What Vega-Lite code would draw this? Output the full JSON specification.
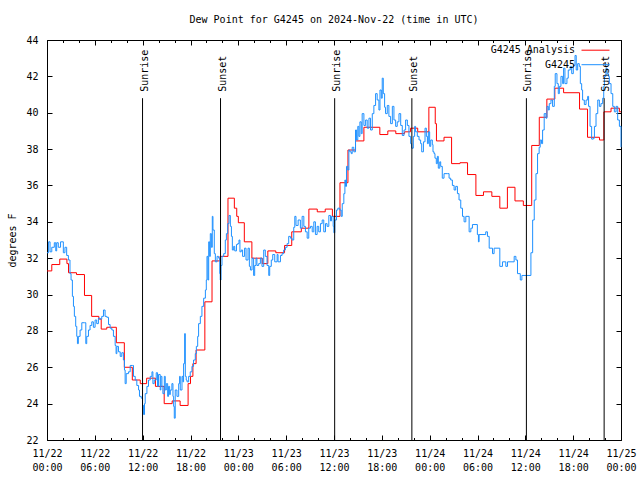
{
"$schema": "https://vega.github.io/schema/vega-lite/v6.json",
"width": 574, "height": 400,
"autosize": {"type": "none"},
"padding": {"left": 47, "top": 40, "right": 19, "bottom": 40},
"background": "white",
"title": {"text": "Dew Point for G4245 on 2024-Nov-22 (time in UTC)", "font": "DejaVu Sans Mono", "fontSize": 10, "fontWeight": "normal", "color": "black", "offset": 10},
"config": {
  "view": {"stroke": "black", "strokeWidth": 1},
  "font": "DejaVu Sans Mono",
  "axis": {"labelFont": "DejaVu Sans Mono", "labelFontSize": 10, "labelColor": "black", "tickColor": "black", "tickWidth": 1, "domain": false, "grid": false, "titleFont": "DejaVu Sans Mono", "titleFontSize": 10, "titleFontWeight": "normal", "titleColor": "black", "labelFlush": false, "labelOverlap": false}
},
"datasets": {
"analysis": [
{"t":"2024-11-22T00:00:00Z","v":31.3},{"t":"2024-11-22T00:36:00Z","v":31.65},{"t":"2024-11-22T01:36:00Z","v":31.95},{"t":"2024-11-22T02:30:00Z","v":31.7},{"t":"2024-11-22T02:42:00Z","v":31.2},{"t":"2024-11-22T03:42:00Z","v":31.1},{"t":"2024-11-22T04:42:00Z","v":29.95},{"t":"2024-11-22T05:36:00Z","v":28.8},{"t":"2024-11-22T06:30:00Z","v":28.65},{"t":"2024-11-22T06:48:00Z","v":28.1},{"t":"2024-11-22T07:30:00Z","v":28.2},{"t":"2024-11-22T08:42:00Z","v":27.35},{"t":"2024-11-22T09:42:00Z","v":26.0},{"t":"2024-11-22T10:42:00Z","v":25.3},{"t":"2024-11-22T11:42:00Z","v":25.1},{"t":"2024-11-22T12:30:00Z","v":25.4},{"t":"2024-11-22T13:36:00Z","v":24.95},{"t":"2024-11-22T14:42:00Z","v":24.0},{"t":"2024-11-22T15:42:00Z","v":24.15},{"t":"2024-11-22T16:42:00Z","v":23.9},{"t":"2024-11-22T17:42:00Z","v":25.1},{"t":"2024-11-22T18:00:00Z","v":25.5},{"t":"2024-11-22T18:18:00Z","v":26.2},{"t":"2024-11-22T18:42:00Z","v":26.95},{"t":"2024-11-22T19:48:00Z","v":29.6},{"t":"2024-11-22T20:42:00Z","v":31.85},{"t":"2024-11-22T21:42:00Z","v":32.1},{"t":"2024-11-22T22:42:00Z","v":35.3},{"t":"2024-11-22T23:30:00Z","v":34.75},{"t":"2024-11-22T23:48:00Z","v":34.3},
{"t":"2024-11-23T00:00:00Z","v":33.95},{"t":"2024-11-23T00:45:00Z","v":32.9},{"t":"2024-11-23T01:42:00Z","v":32.0},{"t":"2024-11-23T03:00:00Z","v":31.7},{"t":"2024-11-23T03:42:00Z","v":32.4},{"t":"2024-11-23T04:42:00Z","v":32.3},{"t":"2024-11-23T05:48:00Z","v":32.7},{"t":"2024-11-23T06:42:00Z","v":33.45},{"t":"2024-11-23T07:54:00Z","v":33.65},{"t":"2024-11-23T08:51:00Z","v":34.7},{"t":"2024-11-23T09:54:00Z","v":34.55},{"t":"2024-11-23T10:54:00Z","v":34.7},{"t":"2024-11-23T11:48:00Z","v":34.3},{"t":"2024-11-23T12:45:00Z","v":36.15},{"t":"2024-11-23T13:45:00Z","v":37.95},{"t":"2024-11-23T14:42:00Z","v":38.45},{"t":"2024-11-23T15:45:00Z","v":39.2},{"t":"2024-11-23T17:45:00Z","v":38.8},{"t":"2024-11-23T18:45:00Z","v":39.0},{"t":"2024-11-23T19:45:00Z","v":38.85},{"t":"2024-11-23T20:51:00Z","v":38.95},{"t":"2024-11-23T21:36:00Z","v":39.15},{"t":"2024-11-23T22:30:00Z","v":38.95},{"t":"2024-11-23T23:54:00Z","v":40.3},
{"t":"2024-11-24T00:42:00Z","v":39.4},{"t":"2024-11-24T00:51:00Z","v":38.45},{"t":"2024-11-24T01:48:00Z","v":38.65},{"t":"2024-11-24T02:45:00Z","v":37.2},{"t":"2024-11-24T03:48:00Z","v":37.25},{"t":"2024-11-24T04:45:00Z","v":36.6},{"t":"2024-11-24T05:48:00Z","v":35.45},{"t":"2024-11-24T06:45:00Z","v":35.65},{"t":"2024-11-24T07:48:00Z","v":35.4},{"t":"2024-11-24T08:48:00Z","v":34.75},{"t":"2024-11-24T09:45:00Z","v":35.9},{"t":"2024-11-24T10:42:00Z","v":35.15},{"t":"2024-11-24T11:45:00Z","v":34.9},{"t":"2024-11-24T12:48:00Z","v":38.2},{"t":"2024-11-24T13:45:00Z","v":39.75},{"t":"2024-11-24T14:42:00Z","v":40.75},{"t":"2024-11-24T15:42:00Z","v":41.35},{"t":"2024-11-24T16:48:00Z","v":41.1},{"t":"2024-11-24T18:48:00Z","v":40.2},{"t":"2024-11-24T19:48:00Z","v":38.65},{"t":"2024-11-24T21:18:00Z","v":38.5},{"t":"2024-11-24T21:51:00Z","v":40.05},{"t":"2024-11-24T22:45:00Z","v":40.25},{"t":"2024-11-24T23:48:00Z","v":40.05},{"t":"2024-11-25T00:00:00Z","v":40.05}
],
"obs": [
{"t":"2024-11-22T00:00:00Z","v":32.3},{"t":"2024-11-22T00:12:00Z","v":32.9},{"t":"2024-11-22T00:23:00Z","v":32.35},{"t":"2024-11-22T00:36:00Z","v":32.6},{"t":"2024-11-22T00:55:00Z","v":32.85},{"t":"2024-11-22T01:06:00Z","v":32.4},{"t":"2024-11-22T01:13:00Z","v":32.85},{"t":"2024-11-22T01:25:00Z","v":32.6},{"t":"2024-11-22T01:42:00Z","v":32.9},{"t":"2024-11-22T02:03:00Z","v":32.3},{"t":"2024-11-22T02:15:00Z","v":32.6},{"t":"2024-11-22T02:28:00Z","v":32.15},{"t":"2024-11-22T02:41:00Z","v":31.9},{"t":"2024-11-22T02:53:00Z","v":31.15},{"t":"2024-11-22T03:01:00Z","v":30.8},{"t":"2024-11-22T03:11:00Z","v":29.9},{"t":"2024-11-22T03:19:00Z","v":29.35},{"t":"2024-11-22T03:26:00Z","v":28.8},{"t":"2024-11-22T03:36:00Z","v":28.25},{"t":"2024-11-22T03:44:00Z","v":27.7},{"t":"2024-11-22T03:49:00Z","v":27.3},{"t":"2024-11-22T03:56:00Z","v":27.7},{"t":"2024-11-22T04:09:00Z","v":28.05},{"t":"2024-11-22T04:22:00Z","v":28.45},{"t":"2024-11-22T04:41:00Z","v":28.45},{"t":"2024-11-22T04:52:00Z","v":27.3},{"t":"2024-11-22T04:59:00Z","v":27.7},{"t":"2024-11-22T05:12:00Z","v":28.05},{"t":"2024-11-22T05:24:00Z","v":28.3},{"t":"2024-11-22T05:37:00Z","v":28.5},{"t":"2024-11-22T05:49:00Z","v":28.2},{"t":"2024-11-22T06:02:00Z","v":28.6},{"t":"2024-11-22T06:14:00Z","v":28.4},{"t":"2024-11-22T06:27:00Z","v":28.7},{"t":"2024-11-22T06:40:00Z","v":28.65},{"t":"2024-11-22T06:52:00Z","v":28.8},{"t":"2024-11-22T07:05:00Z","v":29.15},{"t":"2024-11-22T07:17:00Z","v":28.8},{"t":"2024-11-22T07:30:00Z","v":28.75},{"t":"2024-11-22T07:43:00Z","v":28.35},{"t":"2024-11-22T07:55:00Z","v":28.15},{"t":"2024-11-22T08:08:00Z","v":28.05},{"t":"2024-11-22T08:20:00Z","v":27.7},{"t":"2024-11-22T08:33:00Z","v":27.2},{"t":"2024-11-22T08:40:00Z","v":26.75},{"t":"2024-11-22T08:46:00Z","v":27.15},{"t":"2024-11-22T08:58:00Z","v":26.85},{"t":"2024-11-22T09:11:00Z","v":26.6},{"t":"2024-11-22T09:23:00Z","v":26.8},{"t":"2024-11-22T09:35:00Z","v":26.4},{"t":"2024-11-22T09:43:00Z","v":25.85},{"t":"2024-11-22T09:48:00Z","v":25.1},{"t":"2024-11-22T09:56:00Z","v":25.65},{"t":"2024-11-22T10:13:00Z","v":25.75},{"t":"2024-11-22T10:26:00Z","v":26.1},{"t":"2024-11-22T10:43:00Z","v":26.1},{"t":"2024-11-22T10:51:00Z","v":25.5},{"t":"2024-11-22T11:04:00Z","v":25.3},{"t":"2024-11-22T11:16:00Z","v":25.0},{"t":"2024-11-22T11:29:00Z","v":24.75},{"t":"2024-11-22T11:36:00Z","v":24.4},{"t":"2024-11-22T11:49:00Z","v":24.3},{"t":"2024-11-22T11:59:00Z","v":23.9},{"t":"2024-11-22T12:07:00Z","v":23.4},{"t":"2024-11-22T12:14:00Z","v":24.0},{"t":"2024-11-22T12:19:00Z","v":24.55},{"t":"2024-11-22T12:32:00Z","v":24.95},{"t":"2024-11-22T12:44:00Z","v":25.3},{"t":"2024-11-22T12:57:00Z","v":25.5},{"t":"2024-11-22T13:10:00Z","v":25.75},{"t":"2024-11-22T13:17:00Z","v":25.1},{"t":"2024-11-22T13:27:00Z","v":25.3},{"t":"2024-11-22T13:42:00Z","v":25.7},{"t":"2024-11-22T13:52:00Z","v":24.95},{"t":"2024-11-22T13:59:00Z","v":25.6},{"t":"2024-11-22T14:12:00Z","v":24.75},{"t":"2024-11-22T14:17:00Z","v":25.5},{"t":"2024-11-22T14:25:00Z","v":24.95},{"t":"2024-11-22T14:32:00Z","v":24.55},{"t":"2024-11-22T14:43:00Z","v":25.5},{"t":"2024-11-22T14:50:00Z","v":24.75},{"t":"2024-11-22T14:58:00Z","v":25.1},{"t":"2024-11-22T15:08:00Z","v":24.4},{"t":"2024-11-22T15:15:00Z","v":24.95},{"t":"2024-11-22T15:23:00Z","v":24.5},{"t":"2024-11-22T15:28:00Z","v":24.75},{"t":"2024-11-22T15:40:00Z","v":25.1},{"t":"2024-11-22T15:48:00Z","v":24.4},{"t":"2024-11-22T15:53:00Z","v":23.85},{"t":"2024-11-22T15:58:00Z","v":23.2},{"t":"2024-11-22T16:05:00Z","v":24.75},{"t":"2024-11-22T16:18:00Z","v":24.4},{"t":"2024-11-22T16:31:00Z","v":25.1},{"t":"2024-11-22T16:38:00Z","v":25.5},{"t":"2024-11-22T16:43:00Z","v":24.75},{"t":"2024-11-22T16:56:00Z","v":25.5},{"t":"2024-11-22T17:03:00Z","v":25.2},{"t":"2024-11-22T17:08:00Z","v":26.2},{"t":"2024-11-22T17:16:00Z","v":27.85},{"t":"2024-11-22T17:21:00Z","v":25.5},{"t":"2024-11-22T17:28:00Z","v":25.3},{"t":"2024-11-22T17:34:00Z","v":25.2},{"t":"2024-11-22T17:46:00Z","v":25.5},{"t":"2024-11-22T17:58:00Z","v":25.75},{"t":"2024-11-22T18:11:00Z","v":26.05},{"t":"2024-11-22T18:23:00Z","v":26.4},{"t":"2024-11-22T18:36:00Z","v":26.75},{"t":"2024-11-22T18:44:00Z","v":27.15},{"t":"2024-11-22T18:54:00Z","v":27.7},{"t":"2024-11-22T19:01:00Z","v":28.4},{"t":"2024-11-22T19:14:00Z","v":28.8},{"t":"2024-11-22T19:26:00Z","v":29.35},{"t":"2024-11-22T19:39:00Z","v":29.8},{"t":"2024-11-22T19:52:00Z","v":30.25},{"t":"2024-11-22T19:59:00Z","v":30.8},{"t":"2024-11-22T20:04:00Z","v":32.1},{"t":"2024-11-22T20:11:00Z","v":30.8},{"t":"2024-11-22T20:17:00Z","v":32.9},{"t":"2024-11-22T20:24:00Z","v":32.1},{"t":"2024-11-22T20:29:00Z","v":33.35},{"t":"2024-11-22T20:37:00Z","v":32.6},{"t":"2024-11-22T20:44:00Z","v":34.3},{"t":"2024-11-22T20:49:00Z","v":33.55},{"t":"2024-11-22T20:59:00Z","v":32.25},{"t":"2024-11-22T21:07:00Z","v":31.8},{"t":"2024-11-22T21:20:00Z","v":32.1},{"t":"2024-11-22T21:32:00Z","v":32.0},{"t":"2024-11-22T21:40:00Z","v":31.15},{"t":"2024-11-22T21:44:00Z","v":30.8},{"t":"2024-11-22T21:50:00Z","v":31.6},{"t":"2024-11-22T21:57:00Z","v":32.1},{"t":"2024-11-22T22:10:00Z","v":32.25},{"t":"2024-11-22T22:22:00Z","v":33.0},{"t":"2024-11-22T22:30:00Z","v":33.35},{"t":"2024-11-22T22:40:00Z","v":33.9},{"t":"2024-11-22T22:50:00Z","v":34.35},{"t":"2024-11-22T23:00:00Z","v":33.75},{"t":"2024-11-22T23:08:00Z","v":33.2},{"t":"2024-11-22T23:15:00Z","v":32.45},{"t":"2024-11-22T23:25:00Z","v":32.65},{"t":"2024-11-22T23:33:00Z","v":32.4},{"t":"2024-11-22T23:46:00Z","v":32.75},{"t":"2024-11-22T23:55:00Z","v":32.8},
{"t":"2024-11-23T00:05:00Z","v":33.0},{"t":"2024-11-23T00:12:00Z","v":32.35},{"t":"2024-11-23T00:22:00Z","v":32.45},{"t":"2024-11-23T00:32:00Z","v":32.1},{"t":"2024-11-23T00:47:00Z","v":32.55},{"t":"2024-11-23T00:58:00Z","v":31.9},{"t":"2024-11-23T01:13:00Z","v":32.55},{"t":"2024-11-23T01:23:00Z","v":31.55},{"t":"2024-11-23T01:31:00Z","v":31.35},{"t":"2024-11-23T01:43:00Z","v":32.0},{"t":"2024-11-23T01:55:00Z","v":31.05},{"t":"2024-11-23T02:03:00Z","v":31.6},{"t":"2024-11-23T02:13:00Z","v":32.0},{"t":"2024-11-23T02:20:00Z","v":31.6},{"t":"2024-11-23T02:33:00Z","v":31.7},{"t":"2024-11-23T02:46:00Z","v":32.0},{"t":"2024-11-23T02:58:00Z","v":31.55},{"t":"2024-11-23T03:11:00Z","v":32.45},{"t":"2024-11-23T03:23:00Z","v":32.1},{"t":"2024-11-23T03:36:00Z","v":31.6},{"t":"2024-11-23T03:49:00Z","v":31.05},{"t":"2024-11-23T03:56:00Z","v":31.55},{"t":"2024-11-23T04:08:00Z","v":31.9},{"t":"2024-11-23T04:19:00Z","v":32.2},{"t":"2024-11-23T04:34:00Z","v":31.8},{"t":"2024-11-23T04:52:00Z","v":32.2},{"t":"2024-11-23T04:59:00Z","v":31.8},{"t":"2024-11-23T05:17:00Z","v":32.15},{"t":"2024-11-23T05:29:00Z","v":32.25},{"t":"2024-11-23T05:41:00Z","v":32.45},{"t":"2024-11-23T05:54:00Z","v":32.6},{"t":"2024-11-23T06:07:00Z","v":32.8},{"t":"2024-11-23T06:19:00Z","v":33.2},{"t":"2024-11-23T06:32:00Z","v":33.1},{"t":"2024-11-23T06:44:00Z","v":33.0},{"t":"2024-11-23T06:57:00Z","v":33.7},{"t":"2024-11-23T07:05:00Z","v":34.3},{"t":"2024-11-23T07:14:00Z","v":33.8},{"t":"2024-11-23T07:30:00Z","v":34.1},{"t":"2024-11-23T07:47:00Z","v":33.65},{"t":"2024-11-23T08:00:00Z","v":34.3},{"t":"2024-11-23T08:13:00Z","v":33.75},{"t":"2024-11-23T08:25:00Z","v":33.45},{"t":"2024-11-23T08:38:00Z","v":33.1},{"t":"2024-11-23T08:50:00Z","v":33.65},{"t":"2024-11-23T09:03:00Z","v":33.75},{"t":"2024-11-23T09:16:00Z","v":33.45},{"t":"2024-11-23T09:28:00Z","v":34.0},{"t":"2024-11-23T09:40:00Z","v":33.3},{"t":"2024-11-23T09:53:00Z","v":33.75},{"t":"2024-11-23T10:05:00Z","v":33.45},{"t":"2024-11-23T10:18:00Z","v":33.9},{"t":"2024-11-23T10:31:00Z","v":34.1},{"t":"2024-11-23T10:43:00Z","v":33.45},{"t":"2024-11-23T10:56:00Z","v":33.9},{"t":"2024-11-23T11:08:00Z","v":33.75},{"t":"2024-11-23T11:21:00Z","v":34.35},{"t":"2024-11-23T11:34:00Z","v":34.05},{"t":"2024-11-23T11:41:00Z","v":34.3},{"t":"2024-11-23T11:54:00Z","v":33.75},{"t":"2024-11-23T11:59:00Z","v":33.4},{"t":"2024-11-23T12:06:00Z","v":34.1},{"t":"2024-11-23T12:19:00Z","v":34.65},{"t":"2024-11-23T12:29:00Z","v":34.75},{"t":"2024-11-23T12:44:00Z","v":34.65},{"t":"2024-11-23T12:54:00Z","v":34.3},{"t":"2024-11-23T13:02:00Z","v":35.0},{"t":"2024-11-23T13:14:00Z","v":35.55},{"t":"2024-11-23T13:22:00Z","v":36.3},{"t":"2024-11-23T13:27:00Z","v":35.95},{"t":"2024-11-23T13:34:00Z","v":37.05},{"t":"2024-11-23T13:44:00Z","v":36.85},{"t":"2024-11-23T13:52:00Z","v":37.95},{"t":"2024-11-23T13:59:00Z","v":37.85},{"t":"2024-11-23T14:10:00Z","v":37.75},{"t":"2024-11-23T14:17:00Z","v":38.1},{"t":"2024-11-23T14:29:00Z","v":37.85},{"t":"2024-11-23T14:42:00Z","v":39.05},{"t":"2024-11-23T14:50:00Z","v":38.5},{"t":"2024-11-23T14:59:00Z","v":39.25},{"t":"2024-11-23T15:07:00Z","v":38.7},{"t":"2024-11-23T15:15:00Z","v":39.5},{"t":"2024-11-23T15:25:00Z","v":38.85},{"t":"2024-11-23T15:32:00Z","v":39.95},{"t":"2024-11-23T15:45:00Z","v":39.3},{"t":"2024-11-23T15:58:00Z","v":39.6},{"t":"2024-11-23T16:10:00Z","v":39.15},{"t":"2024-11-23T16:23:00Z","v":39.7},{"t":"2024-11-23T16:35:00Z","v":39.05},{"t":"2024-11-23T16:48:00Z","v":39.95},{"t":"2024-11-23T17:00:00Z","v":40.4},{"t":"2024-11-23T17:13:00Z","v":41.05},{"t":"2024-11-23T17:25:00Z","v":40.7},{"t":"2024-11-23T17:38:00Z","v":40.15},{"t":"2024-11-23T17:46:00Z","v":41.25},{"t":"2024-11-23T17:56:00Z","v":40.8},{"t":"2024-11-23T18:03:00Z","v":41.9},{"t":"2024-11-23T18:11:00Z","v":41.05},{"t":"2024-11-23T18:21:00Z","v":40.3},{"t":"2024-11-23T18:28:00Z","v":39.95},{"t":"2024-11-23T18:41:00Z","v":40.4},{"t":"2024-11-23T18:53:00Z","v":39.8},{"t":"2024-11-23T19:06:00Z","v":39.4},{"t":"2024-11-23T19:19:00Z","v":40.35},{"t":"2024-11-23T19:31:00Z","v":39.6},{"t":"2024-11-23T19:44:00Z","v":39.25},{"t":"2024-11-23T19:56:00Z","v":39.5},{"t":"2024-11-23T20:09:00Z","v":39.95},{"t":"2024-11-23T20:22:00Z","v":39.3},{"t":"2024-11-23T20:34:00Z","v":38.75},{"t":"2024-11-23T20:47:00Z","v":39.05},{"t":"2024-11-23T20:59:00Z","v":39.6},{"t":"2024-11-23T21:12:00Z","v":39.3},{"t":"2024-11-23T21:24:00Z","v":38.7},{"t":"2024-11-23T21:37:00Z","v":38.3},{"t":"2024-11-23T21:44:00Z","v":38.05},{"t":"2024-11-23T21:57:00Z","v":38.7},{"t":"2024-11-23T22:07:00Z","v":39.25},{"t":"2024-11-23T22:14:00Z","v":38.95},{"t":"2024-11-23T22:27:00Z","v":38.7},{"t":"2024-11-23T22:40:00Z","v":38.5},{"t":"2024-11-23T22:52:00Z","v":38.3},{"t":"2024-11-23T23:00:00Z","v":37.85},{"t":"2024-11-23T23:13:00Z","v":38.4},{"t":"2024-11-23T23:25:00Z","v":39.15},{"t":"2024-11-23T23:35:00Z","v":38.7},{"t":"2024-11-23T23:43:00Z","v":38.3},{"t":"2024-11-23T23:50:00Z","v":38.95},
{"t":"2024-11-24T00:00:00Z","v":38.15},{"t":"2024-11-24T00:08:00Z","v":38.5},{"t":"2024-11-24T00:20:00Z","v":38.25},{"t":"2024-11-24T00:25:00Z","v":37.85},{"t":"2024-11-24T00:33:00Z","v":37.75},{"t":"2024-11-24T00:40:00Z","v":37.5},{"t":"2024-11-24T00:50:00Z","v":37.2},{"t":"2024-11-24T00:58:00Z","v":37.6},{"t":"2024-11-24T01:05:00Z","v":36.95},{"t":"2024-11-24T01:16:00Z","v":37.3},{"t":"2024-11-24T01:23:00Z","v":37.05},{"t":"2024-11-24T01:35:00Z","v":36.4},{"t":"2024-11-24T01:48:00Z","v":36.65},{"t":"2024-11-24T02:13:00Z","v":36.65},{"t":"2024-11-24T02:26:00Z","v":36.4},{"t":"2024-11-24T02:38:00Z","v":36.3},{"t":"2024-11-24T02:51:00Z","v":36.0},{"t":"2024-11-24T03:04:00Z","v":35.75},{"t":"2024-11-24T03:16:00Z","v":35.95},{"t":"2024-11-24T03:29:00Z","v":35.55},{"t":"2024-11-24T03:41:00Z","v":35.2},{"t":"2024-11-24T03:54:00Z","v":34.75},{"t":"2024-11-24T04:07:00Z","v":34.3},{"t":"2024-11-24T04:19:00Z","v":34.0},{"t":"2024-11-24T04:32:00Z","v":34.3},{"t":"2024-11-24T04:57:00Z","v":33.45},{"t":"2024-11-24T05:10:00Z","v":33.65},{"t":"2024-11-24T05:22:00Z","v":33.85},{"t":"2024-11-24T05:59:00Z","v":33.3},{"t":"2024-11-24T06:07:00Z","v":32.9},{"t":"2024-11-24T06:12:00Z","v":33.3},{"t":"2024-11-24T07:02:00Z","v":33.45},{"t":"2024-11-24T07:15:00Z","v":33.2},{"t":"2024-11-24T07:28:00Z","v":32.55},{"t":"2024-11-24T07:53:00Z","v":32.25},{"t":"2024-11-24T08:05:00Z","v":32.55},{"t":"2024-11-24T08:48:00Z","v":31.55},{"t":"2024-11-24T09:08:00Z","v":31.8},{"t":"2024-11-24T09:33:00Z","v":31.55},{"t":"2024-11-24T09:46:00Z","v":31.8},{"t":"2024-11-24T10:36:00Z","v":32.1},{"t":"2024-11-24T10:49:00Z","v":31.9},{"t":"2024-11-24T11:01:00Z","v":31.15},{"t":"2024-11-24T11:22:00Z","v":30.8},{"t":"2024-11-24T11:34:00Z","v":31.05},{"t":"2024-11-24T12:42:00Z","v":32.3},{"t":"2024-11-24T12:55:00Z","v":34.1},{"t":"2024-11-24T13:07:00Z","v":35.2},{"t":"2024-11-24T13:20:00Z","v":36.65},{"t":"2024-11-24T13:32:00Z","v":37.75},{"t":"2024-11-24T13:44:00Z","v":38.1},{"t":"2024-11-24T13:52:00Z","v":38.5},{"t":"2024-11-24T14:02:00Z","v":38.3},{"t":"2024-11-24T14:10:00Z","v":39.05},{"t":"2024-11-24T14:22:00Z","v":39.95},{"t":"2024-11-24T14:35:00Z","v":39.7},{"t":"2024-11-24T14:43:00Z","v":40.35},{"t":"2024-11-24T14:53:00Z","v":40.15},{"t":"2024-11-24T15:00:00Z","v":40.5},{"t":"2024-11-24T15:13:00Z","v":40.7},{"t":"2024-11-24T15:25:00Z","v":40.35},{"t":"2024-11-24T15:38:00Z","v":41.45},{"t":"2024-11-24T15:45:00Z","v":42.15},{"t":"2024-11-24T15:58:00Z","v":41.6},{"t":"2024-11-24T16:08:00Z","v":41.05},{"t":"2024-11-24T16:16:00Z","v":41.45},{"t":"2024-11-24T16:28:00Z","v":42.0},{"t":"2024-11-24T16:41:00Z","v":41.6},{"t":"2024-11-24T16:48:00Z","v":42.45},{"t":"2024-11-24T16:58:00Z","v":41.6},{"t":"2024-11-24T17:13:00Z","v":41.9},{"t":"2024-11-24T17:23:00Z","v":42.35},{"t":"2024-11-24T17:38:00Z","v":42.55},{"t":"2024-11-24T17:49:00Z","v":42.15},{"t":"2024-11-24T18:01:00Z","v":42.6},{"t":"2024-11-24T18:14:00Z","v":43.15},{"t":"2024-11-24T18:23:00Z","v":42.35},{"t":"2024-11-24T18:34:00Z","v":42.7},{"t":"2024-11-24T18:46:00Z","v":42.55},{"t":"2024-11-24T18:54:00Z","v":41.6},{"t":"2024-11-24T19:04:00Z","v":41.25},{"t":"2024-11-24T19:11:00Z","v":40.7},{"t":"2024-11-24T19:24:00Z","v":40.45},{"t":"2024-11-24T19:37:00Z","v":40.7},{"t":"2024-11-24T19:49:00Z","v":40.9},{"t":"2024-11-24T19:56:00Z","v":40.35},{"t":"2024-11-24T20:07:00Z","v":39.25},{"t":"2024-11-24T20:19:00Z","v":38.55},{"t":"2024-11-24T20:32:00Z","v":38.6},{"t":"2024-11-24T20:40:00Z","v":39.25},{"t":"2024-11-24T20:52:00Z","v":39.95},{"t":"2024-11-24T21:05:00Z","v":40.7},{"t":"2024-11-24T21:17:00Z","v":40.35},{"t":"2024-11-24T21:29:00Z","v":40.5},{"t":"2024-11-24T21:42:00Z","v":40.8},{"t":"2024-11-24T21:50:00Z","v":41.45},{"t":"2024-11-24T21:55:00Z","v":42.0},{"t":"2024-11-24T22:07:00Z","v":42.45},{"t":"2024-11-24T22:15:00Z","v":42.15},{"t":"2024-11-24T22:25:00Z","v":42.0},{"t":"2024-11-24T22:32:00Z","v":41.6},{"t":"2024-11-24T22:45:00Z","v":41.05},{"t":"2024-11-24T22:58:00Z","v":40.35},{"t":"2024-11-24T23:10:00Z","v":40.05},{"t":"2024-11-24T23:23:00Z","v":40.35},{"t":"2024-11-24T23:35:00Z","v":39.6},{"t":"2024-11-24T23:48:00Z","v":39.25},{"t":"2024-11-25T00:00:00Z","v":38.1}
],
"sun": [
{"t":"2024-11-22T11:59:00Z","event":"Sunrise"},{"t":"2024-11-22T21:46:00Z","event":"Sunset"},{"t":"2024-11-23T12:05:00Z","event":"Sunrise"},{"t":"2024-11-23T21:46:00Z","event":"Sunset"},{"t":"2024-11-24T12:08:00Z","event":"Sunrise"},{"t":"2024-11-24T21:53:00Z","event":"Sunset"}
]
},
"layer": [
{
 "data": {"name": "analysis"},
 "mark": {"type": "line", "interpolate": "step-after", "strokeWidth": 1},
 "encoding": {
  "x": {"field": "t", "type": "temporal", "scale": {"type": "utc", "domain": [1732233600000, 1732492800000]},
        "axis": {"orient": "bottom", "title": null, "values": [1732233600000,1732255200000,1732276800000,1732298400000,1732320000000,1732341600000,1732363200000,1732384800000,1732406400000,1732428000000,1732449600000,1732471200000,1732492800000], "ticks": false, "labelPadding": 8, "labelExpr": "utcFormat(datum.value, '%m/%d')"}},
  "y": {"field": "v", "type": "quantitative", "scale": {"domain": [22, 44], "nice": false, "zero": false},
        "axis": {"orient": "left", "title": "degrees F", "values": [22,24,26,28,30,32,34,36,38,40,42,44], "ticks": false, "labelPadding": 9, "titlePadding": 8}},
  "color": {"datum": "G4245 Analysis", "scale": {"domain": ["G4245 Analysis", "G4245"], "range": ["#ff0000", "#1e90ff"]},
            "legend": {"title": null, "orient": "none", "legendX": 543, "legendY": 4.7, "symbolType": "M -2.8 0 L 2.8 0", "symbolSize": 100, "symbolStrokeWidth": 1, "labelAlign": "right", "labelOffset": -26, "labelFont": "DejaVu Sans Mono", "labelFontSize": 10, "labelColor": "black", "rowPadding": 3.5, "padding": 0}}
 }
},
{
 "data": {"name": "obs"},
 "mark": {"type": "line", "interpolate": "step-after", "strokeWidth": 1},
 "encoding": {
  "x": {"field": "t", "type": "temporal", "axis": {"orient": "top", "title": null, "labels": false, "values": [1732233600000,1732255200000,1732276800000,1732298400000,1732320000000,1732341600000,1732363200000,1732384800000,1732406400000,1732428000000,1732449600000,1732471200000,1732492800000], "tickSize": 5, "offset": -5}},
  "y": {"field": "v", "type": "quantitative", "axis": {"orient": "right", "title": null, "labels": false, "values": [22,24,26,28,30,32,34,36,38,40,42,44], "tickSize": 5, "offset": -5}},
  "color": {"datum": "G4245"}
 }
},
{
 "data": {"name": "sun"},
 "mark": {"type": "rule", "color": "black", "strokeWidth": 1},
 "encoding": {
  "x": {"field": "t", "type": "temporal", "axis": {"orient": "bottom", "title": null, "labels": false, "values": [1732233600000,1732240800000,1732248000000,1732255200000,1732262400000,1732269600000,1732276800000,1732284000000,1732291200000,1732298400000,1732305600000,1732312800000,1732320000000,1732327200000,1732334400000,1732341600000,1732348800000,1732356000000,1732363200000,1732370400000,1732377600000,1732384800000,1732392000000,1732399200000,1732406400000,1732413600000,1732420800000,1732428000000,1732435200000,1732442400000,1732449600000,1732456800000,1732464000000,1732471200000,1732478400000,1732485600000,1732492800000], "tickSize": 2.5, "offset": -2.5}},
  "y": {"datum": 22, "type": "quantitative", "axis": {"orient": "left", "title": null, "labels": false, "values": [22,24,26,28,30,32,34,36,38,40,42,44], "tickSize": 5, "offset": -5}},
  "y2": {"datum": 40.8}
 }
},
{
 "data": {"name": "sun"},
 "mark": {"type": "text", "angle": 270, "align": "left", "baseline": "alphabetic", "dy": 5, "font": "DejaVu Sans Mono", "fontSize": 10, "color": "black"},
 "encoding": {
  "x": {"field": "t", "type": "temporal", "axis": {"orient": "top", "title": null, "labels": false, "values": [1732233600000,1732240800000,1732248000000,1732255200000,1732262400000,1732269600000,1732276800000,1732284000000,1732291200000,1732298400000,1732305600000,1732312800000,1732320000000,1732327200000,1732334400000,1732341600000,1732348800000,1732356000000,1732363200000,1732370400000,1732377600000,1732384800000,1732392000000,1732399200000,1732406400000,1732413600000,1732420800000,1732428000000,1732435200000,1732442400000,1732449600000,1732456800000,1732464000000,1732471200000,1732478400000,1732485600000,1732492800000], "tickSize": 2.5, "offset": -2.5}},
  "y": {"datum": 41.15, "type": "quantitative", "axis": null},
  "text": {"field": "event"}
 }
},
{
 "data": {"name": "sun"},
 "mark": {"type": "rule", "opacity": 0},
 "encoding": {
  "x": {"field": "t", "type": "temporal", "axis": {"orient": "bottom", "title": null, "values": [1732233600000,1732255200000,1732276800000,1732298400000,1732320000000,1732341600000,1732363200000,1732384800000,1732406400000,1732428000000,1732449600000,1732471200000,1732492800000], "tickSize": 5, "offset": -5, "labelPadding": 22, "labelExpr": "utcFormat(datum.value, '%H:%M')"}},
  "y": {"datum": 22, "type": "quantitative", "axis": null},
  "y2": {"datum": 22}
 }
}
],
"resolve": {"axis": {"x": "independent", "y": "independent"}}
}
